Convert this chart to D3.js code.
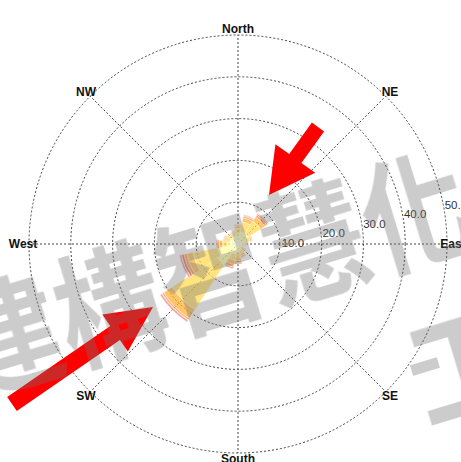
<!DOCTYPE html>
<html>
<head>
<meta charset="utf-8">
<script src="https://cdn.jsdelivr.net/npm/d3@7"></script>
<style>
  html, body { margin: 0; padding: 0; background: #fff; }
  svg { display: block; }
</style>
</head>
<body>
<svg id="chart" width="461" height="462"></svg>
<script>
// ---- data ----
const directions = ["N","NNE","NE","ENE","E","ESE","SE","SSE","S","SSW","SW","WSW","W","WNW","NW","NNW"];
const speedBins = ["0-1","1-2","2-3","3-4","4-5","5+"];
const binColors = ["#ffff99","#ffd94d","#ffb02e","#fb8a30","#e8502b","#f08080"];
// frequency (%) per direction, one array per speed bin
const bin1 = [2.5, 3.0, 3.0, 2.0, 1.5, 1.0, 1.2, 1.5, 2.0, 2.5, 6.0, 5.0, 2.5, 2.0, 2.0, 2.0];
const bin2 = [1.3, 2.4, 3.5, 1.0, 0.5, 0.4, 0.6, 0.8, 1.2, 1.5,12.8, 6.0, 1.2, 1.0, 0.8, 0.8];
const bin3 = [0.5, 1.0, 1.2, 0.4, 0.2, 0.2, 0.3, 0.6, 0.8, 1.0, 2.5, 1.5, 0.8, 0.4, 0.3, 0.3];
const bin4 = [0.3, 0.4, 0.6, 0.2, 0.0, 0.0, 0.2, 0.4, 0.6, 0.7, 0.4, 0.7, 0.5, 0.2, 0.1, 0.1];
const bin5 = [0.1, 0.2, 0.3, 0.0, 0.0, 0.0, 0.0, 0.1, 0.2, 0.3, 0.1, 0.6, 0.2, 0.1, 0.0, 0.0];
const bin6 = [0.0, 0.2, 0.2, 0.0, 0.0, 0.0, 0.0, 0.0, 0.0, 0.0, 0.5, 0.5, 0.0, 0.0, 0.0, 0.0];
const bins = [bin1, bin2, bin3, bin4, bin5, bin6];
const ringValues = [10, 20, 30, 40, 50];
const ringLabels = ["10.0","20.0","30.0","40.0","50.0"];
const compassLabels = ["North","NE","East","SE","South","SW","West","NW"];
const watermarkText = "建構智慧化";
const watermarkText2 = "工";

// ---- layout ----
const cx = 238, cy = 244, R = 209;
const svg = d3.select("#chart");
const r = d3.scaleLinear().domain([0, 50]).range([0, R]);
const angle = d3.scaleBand().domain(directions).range([0, 2 * Math.PI]);
const compassAngle = d3.scalePoint().domain(compassLabels).range([0, 2 * Math.PI * 7 / 8]);

const g = svg.append("g").attr("transform", `translate(${cx},${cy})`);

// grid circles
g.selectAll("circle.ring").data(ringValues).join("circle")
  .attr("r", d => r(d)).attr("fill", "none")
  .attr("stroke", "#444").attr("stroke-width", 1).attr("stroke-dasharray", "2,2");

// spokes
g.selectAll("line.spoke").data(compassLabels).join("line")
  .attr("x1", 0).attr("y1", 0)
  .attr("x2", d => R * Math.sin(compassAngle(d)))
  .attr("y2", d => -R * Math.cos(compassAngle(d)))
  .attr("stroke", "#444").attr("stroke-width", 1).attr("stroke-dasharray", "2,2");

// wedges
const stacked = directions.map((dir, i) => {
  let acc = 0;
  return bins.map((b, k) => { const s = acc; acc += b[i]; return {dir, k, r0: s, r1: acc}; })
             .filter(d => d.r1 > d.r0);
}).flat();
const half = Math.PI / 16 * 1.05;
const arc = d3.arc()
  .innerRadius(d => r(d.r0)).outerRadius(d => r(d.r1))
  .startAngle(d => angle(d.dir) - half)
  .endAngle(d => angle(d.dir) + half);
g.selectAll("path.wedge").data(stacked).join("path")
  .attr("d", arc)
  .attr("fill", d => binColors[d.k]).attr("fill-opacity", 0.72)
  .attr("stroke", "#fff").attr("stroke-width", 0.6).attr("stroke-opacity", 0.8);

// ring labels
const la = 13 * Math.PI / 180;
g.selectAll("text.rl").data(ringValues).join("text")
  .attr("x", d => r(d) * Math.cos(la) + 3)
  .attr("y", d => -r(d) * Math.sin(la) + 12)
  .attr("font-family", "Liberation Sans, Arial, sans-serif").attr("font-size", 11.5)
  .attr("fill", "#333")
  .text((d, i) => ringLabels[i]);

// compass labels
g.selectAll("text.cl").data(compassLabels).join("text")
  .attr("x", d => 215 * Math.sin(compassAngle(d)))
  .attr("y", d => -215 * Math.cos(compassAngle(d)) + 4)
  .attr("text-anchor", "middle")
  .attr("font-family", "Liberation Sans, Arial, sans-serif").attr("font-size", 12)
  .attr("font-weight", "bold").attr("fill", "#111")
  .text(d => d);

// red arrows
function arrowPath(tip, tail, shaftW, headLen, headW) {
  const dx = tip[0] - tail[0], dy = tip[1] - tail[1];
  const L = Math.hypot(dx, dy), ux = dx / L, uy = dy / L, px = -uy, py = ux;
  const bx = tip[0] - ux * headLen, by = tip[1] - uy * headLen;
  const p = (x, y, s, w) => [x + px * w * s, y + py * w * s];
  const pts = [
    p(tail[0], tail[1], 1, shaftW / 2), p(bx, by, 1, shaftW / 2), p(bx, by, 1, headW / 2),
    tip, p(bx, by, -1, headW / 2), p(bx, by, -1, shaftW / 2), p(tail[0], tail[1], -1, shaftW / 2)
  ];
  return "M" + pts.map(q => q.join(",")).join("L") + "Z";
}
svg.append("path").attr("d", arrowPath([269, 195], [318, 127], 15, 45, 49)).attr("fill", "#ff0000");
svg.append("path").attr("d", arrowPath([153, 307], [12, 404], 17, 46, 45)).attr("fill", "#ff0000");

// watermark
const wmRoot = svg.append("g").attr("transform", "translate(107,298) rotate(-17)")
  .attr("fill", "#707070").attr("opacity", 0.36);
wmRoot.append("g").attr("transform", "scale(0.86,1)")
  .append("text").attr("x", -186).attr("y", 0)
  .attr("dominant-baseline", "central")
  .attr("font-family", "Noto Sans CJK TC").attr("font-weight", "bold").attr("font-size", 124)
  .text(watermarkText);
wmRoot.append("g").attr("transform", "translate(322,160) scale(0.86,1)")
  .append("text").attr("x", 0).attr("y", 0)
  .attr("dominant-baseline", "central").attr("text-anchor", "middle")
  .attr("font-family", "Noto Sans CJK TC").attr("font-weight", "bold").attr("font-size", 124)
  .text(watermarkText2);
wmRoot.append("rect").attr("x", 270).attr("y", 153).attr("width", 28).attr("height", 11);
</script>
</body>
</html>
